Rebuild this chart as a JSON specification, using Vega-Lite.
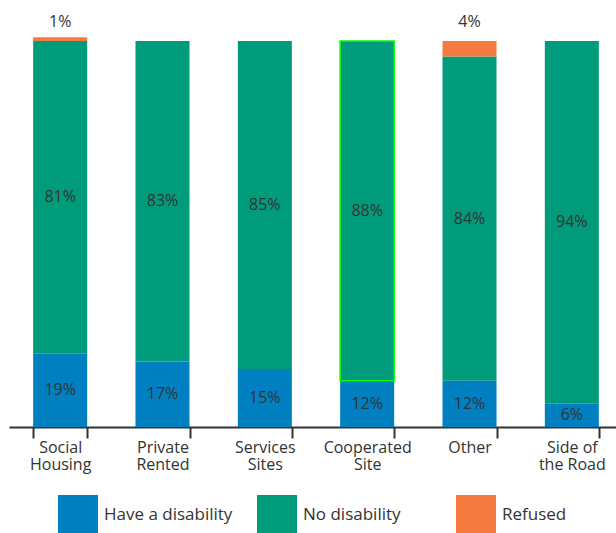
{
  "$schema": "https://vega.github.io/schema/vega-lite/v6.json",
  "width": 614,
  "height": 386,
  "autosize": {"type": "none"},
  "padding": {"left": 9, "top": 41, "right": 0, "bottom": 106},
  "config": {"view": {"stroke": null}, "font": "Open Sans"},
  "data": {
    "values": [
      {"cat": "Social Housing", "group": "Have a disability", "value": 0.19},
      {"cat": "Social Housing", "group": "No disability", "value": 0.81},
      {"cat": "Social Housing", "group": "Refused", "value": 0.01},
      {"cat": "Private Rented", "group": "Have a disability", "value": 0.17},
      {"cat": "Private Rented", "group": "No disability", "value": 0.83},
      {"cat": "Services Sites", "group": "Have a disability", "value": 0.15},
      {"cat": "Services Sites", "group": "No disability", "value": 0.85},
      {"cat": "Cooperated Site", "group": "Have a disability", "value": 0.12},
      {"cat": "Cooperated Site", "group": "No disability", "value": 0.88},
      {"cat": "Other", "group": "Have a disability", "value": 0.12},
      {"cat": "Other", "group": "No disability", "value": 0.84},
      {"cat": "Other", "group": "Refused", "value": 0.04},
      {"cat": "Side of the Road", "group": "Have a disability", "value": 0.06},
      {"cat": "Side of the Road", "group": "No disability", "value": 0.94}
    ]
  },
  "transform": [
    {"stack": "value", "groupby": ["cat"], "sort": [{"field": "group", "order": "ascending"}], "as": ["y0", "y1"]},
    {"calculate": "(datum.y0 + datum.y1) / 2", "as": "mid"}
  ],
  "encoding": {
    "x": {
      "field": "cat",
      "type": "nominal",
      "sort": ["Social Housing", "Private Rented", "Services Sites", "Cooperated Site", "Other", "Side of the Road"],
      "scale": {"paddingInner": 0.472, "paddingOuter": 0.236},
      "axis": {
        "title": null,
        "labelAngle": 0,
        "tickBand": "extent",
        "tickSize": 11,
        "tickWidth": 2,
        "tickColor": "#333",
        "domainWidth": 2,
        "domainColor": "#333",
        "labelFontSize": 16,
        "labelColor": "#333",
        "labelPadding": 1,
        "labelLineHeight": 17,
        "labelBaseline": "top",
        "labelExpr": "datum.label == 'Side of the Road' ? ['Side of', 'the Road'] : split(datum.label, ' ')"
      }
    }
  },
  "layer": [
    {
      "mark": {"type": "bar", "strokeWidth": 1.5},
      "encoding": {
        "y": {"field": "y0", "type": "quantitative", "scale": {"domain": [0, 1], "nice": false}, "axis": null},
        "y2": {"field": "y1"},
        "color": {
          "field": "group",
          "type": "nominal",
          "scale": {"domain": ["Have a disability", "No disability", "Refused"], "range": ["#0080c1", "#009b7b", "#f47a40"]},
          "legend": {
            "title": null,
            "orient": "none",
            "legendX": 49,
            "legendY": 454,
            "direction": "horizontal",
            "symbolType": "square",
            "symbolSize": 1600,
            "symbolStrokeWidth": 0,
            "labelFontSize": 17,
            "labelColor": "#333",
            "labelOffset": 6,
            "columnPadding": 24,
            "gridAlign": "all"
          }
        },
        "stroke": {
          "condition": {"test": "datum.cat === 'Cooperated Site' && datum.group === 'No disability'", "value": "#00ff00"},
          "value": null
        }
      }
    },
    {
      "transform": [{"filter": "datum.group != 'Refused'"}],
      "mark": {"type": "text", "fontSize": 16, "color": "#333"},
      "encoding": {
        "y": {"field": "mid", "type": "quantitative"},
        "text": {"field": "value", "type": "quantitative", "format": ".0%"}
      }
    },
    {
      "transform": [{"filter": "datum.group == 'Refused'"}],
      "mark": {"type": "text", "fontSize": 16, "color": "#333", "baseline": "middle"},
      "encoding": {
        "y": {"datum": 1.05, "type": "quantitative"},
        "text": {"field": "value", "type": "quantitative", "format": ".0%"}
      }
    }
  ]
}
